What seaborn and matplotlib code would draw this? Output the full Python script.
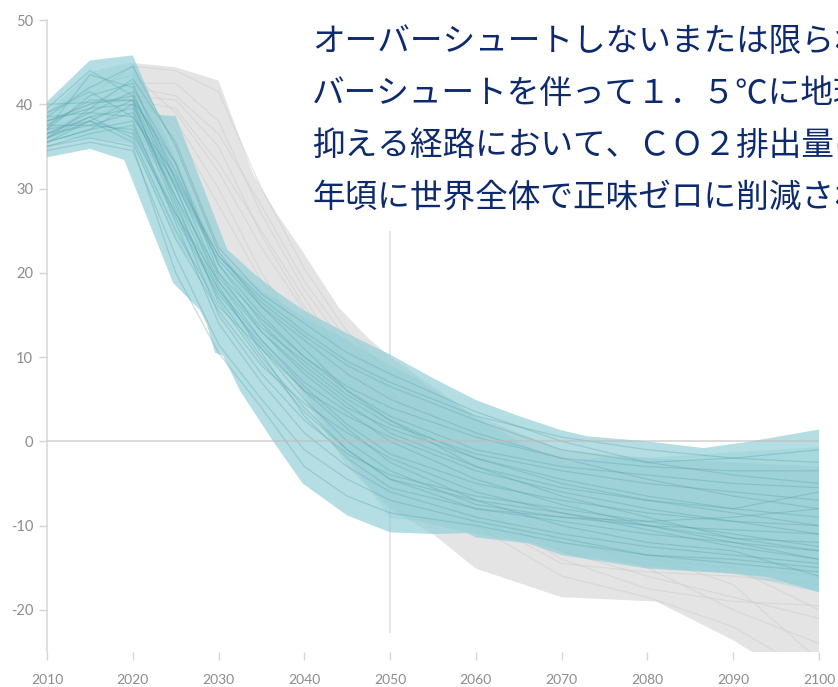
import matplotlib
matplotlib.use('Agg')
import matplotlib.pyplot as plt
import seaborn as sns
import pandas as pd

# title lines (cut off at the right edge like the original)
title_lines = [
    'オーバーシュートしないまたは限られたオー',
    'バーシュートを伴って１．５℃に地球温暖化を',
    '抑える経路において、ＣＯ２排出量は２０５０',
    '年頃に世界全体で正味ゼロに削減される',
]

# outer teal envelope
teal_up_years = [2010, 2015, 2020, 2023, 2025, 2027.5, 2031, 2034, 2037, 2040, 2045, 2050,
                 2055, 2060, 2065, 2070, 2073, 2080, 2086.5, 2091.5, 2100]
teal_up = [40.3, 45.2, 45.8, 38.7, 38.6, 32.0, 22.8, 20.0, 17.6, 15.5, 12.8, 10.3,
           7.5, 4.9, 3.0, 1.3, 0.6, 0.0, -0.8, -0.1, 1.4]
teal_lo_years = [2010, 2015, 2019, 2024.7, 2027.8, 2028.6, 2029.6, 2030.5, 2032.5, 2036.3,
                 2039.8, 2045, 2050, 2055, 2059, 2060, 2066, 2070, 2080, 2090, 2094, 2100]
teal_lo = [33.7, 34.7, 33.4, 18.8, 15.6, 14.0, 10.5, 10.2, 6.0, 0.1,
           -5.0, -8.8, -10.8, -11.0, -10.9, -11.4, -12.1, -13.5, -15.1, -15.7, -16.1, -17.9]

# inner teal envelope (shows darker where it overlaps)
inner_years = [2010, 2015, 2020, 2025, 2030, 2035, 2039.5, 2045, 2050, 2053, 2060, 2067,
               2071, 2074.5, 2081, 2090, 2100]
inner_up = [39.0, 43.8, 45.0, 33.5, 22.0, 18.0, 15.0, 12.0, 9.0, 7.5, 2.8, -1.1,
            -2.5, -1.9, -1.9, -1.3, -0.7]
inner_lo = [35.8, 36.0, 35.3, 24.0, 16.5, 11.0, 6.4, -2.0, -9.1, -9.4, -11.0, -12.1,
            -13.5, -14.0, -15.0, -15.7, -17.9]

# grey envelope
grey_up_years = [2020, 2025, 2030, 2034, 2036.8, 2039.5, 2044, 2047.3, 2050, 2060, 2070, 2080, 2090, 2100]
grey_up = [44.9, 44.4, 42.8, 31.8, 27.0, 23.0, 15.9, 12.4, 10.0, 3.0, -1.0, -2.0, -2.5, -3.0]
grey_lo_years = [2020, 2025, 2030, 2035, 2040, 2045, 2050, 2055, 2060, 2070, 2081, 2090, 2100]
grey_lo = [36.0, 30.0, 22.0, 14.0, 5.0, -3.0, -8.0, -11.0, -15.1, -18.5, -19.0, -23.6, -30.0]

# individual pathways
years = [2010, 2015, 2020, 2025, 2030, 2035, 2040, 2045, 2050, 2060, 2070, 2080, 2090, 2100]
teal_paths = {
    't01': [39.5, 44.0, 41.0, 31.0, 22.0, 17.0, 13.0, 9.5, 7.0, 3.0, 0.5, -1.0, -2.0, -2.5],
    't02': [38.5, 42.0, 44.5, 35.0, 22.5, 16.0, 11.0, 6.0, 3.0, -1.0, -3.0, -4.0, -5.0, -5.5],
    't03': [36.0, 38.0, 40.5, 30.0, 19.0, 12.0, 6.5, 2.0, -1.5, -5.0, -7.0, -8.5, -9.5, -10.0],
    't04': [37.5, 40.5, 40.5, 28.0, 17.0, 10.0, 4.0, -1.0, -4.5, -8.0, -9.5, -11.0, -12.0, -13.0],
    't05': [35.5, 37.0, 38.0, 26.0, 14.0, 7.0, 1.0, -3.0, -6.0, -9.0, -11.0, -12.5, -13.5, -14.5],
    't06': [40.0, 40.2, 40.5, 33.0, 21.0, 15.0, 10.0, 6.5, 4.0, 0.5, -2.0, -3.0, -3.5, -3.5],
    't07': [36.5, 38.5, 36.0, 25.0, 16.0, 11.0, 6.0, 3.0, 0.5, -3.5, -6.0, -8.0, -9.5, -11.0],
    't08': [37.0, 43.5, 42.0, 33.0, 20.0, 13.0, 8.0, 4.0, 1.5, -2.0, -4.5, -6.5, -8.0, -9.0],
    't09': [35.0, 36.5, 37.5, 27.0, 18.0, 12.0, 7.0, 3.5, 0.0, -4.5, -7.5, -10.0, -12.0, -14.0],
    't10': [38.0, 39.5, 43.0, 35.5, 23.0, 17.5, 14.0, 10.5, 8.0, 3.5, 0.0, -2.5, -4.0, -5.0],
    't11': [34.5, 35.5, 34.5, 22.0, 11.5, 5.0, -1.0, -4.5, -7.0, -9.5, -11.5, -13.5, -14.5, -15.5],
    't12': [36.5, 39.0, 41.5, 30.0, 18.5, 10.5, 3.0, -2.0, -5.5, -8.0, -9.0, -10.0, -10.5, -11.0],
    't13': [37.5, 37.5, 39.0, 29.0, 20.0, 14.5, 10.0, 6.0, 2.5, -2.0, -5.0, -7.0, -8.5, -10.0],
    't14': [35.5, 38.0, 35.5, 24.0, 15.5, 9.0, 4.5, 1.0, -2.0, -6.0, -8.5, -10.5, -12.5, -14.0],
    't15': [39.0, 41.5, 38.5, 30.5, 21.5, 16.0, 12.0, 8.0, 5.0, 1.0, -2.0, -4.5, -6.5, -8.0],
    't16': [36.0, 38.5, 39.5, 27.5, 15.0, 8.0, 2.5, -1.5, -4.0, -6.5, -8.0, -9.5, -11.0, -12.5],
    't17': [38.0, 40.0, 41.0, 32.0, 21.0, 14.0, 9.0, 5.0, 2.0, -1.5, -3.5, -5.0, -6.0, -7.0],
    't18': [35.0, 36.0, 35.0, 20.0, 10.5, 4.0, -3.0, -6.5, -8.5, -10.0, -12.0, -13.5, -14.0, -15.0],
    't19': [37.0, 41.0, 42.5, 31.0, 19.5, 13.5, 9.5, 5.5, 2.5, -3.0, -6.5, -9.0, -11.5, -13.0],
    't20': [36.5, 37.5, 37.0, 26.5, 17.5, 11.5, 6.0, 1.5, -2.5, -7.0, -10.0, -12.0, -13.0, -16.0],
    't21': [38.5, 39.0, 38.5, 31.5, 22.0, 16.5, 12.5, 9.0, 6.5, 2.5, -1.0, -2.5, -2.0, -1.0],
    't22': [35.5, 37.0, 40.0, 29.0, 18.0, 11.0, 5.0, 0.0, -3.5, -7.5, -9.0, -9.5, -9.0, -8.0],
    't23': [37.0, 38.0, 36.5, 27.0, 19.0, 13.0, 8.5, 4.5, 1.0, -3.0, -5.5, -7.0, -8.0, -6.0],
    't24': [36.0, 39.5, 40.0, 28.5, 16.5, 9.5, 3.5, -1.0, -4.5, -7.0, -8.5, -10.0, -11.5, -12.0],
}
grey_paths = {
    'g01': [39.0, 41.0, 44.5, 44.0, 41.5, 30.0, 20.5, 13.0, 8.0, -2.0, -7.0, -11.0, -15.0, -20.0],
    'g02': [38.0, 40.0, 42.5, 42.5, 38.0, 27.0, 18.0, 11.0, 5.5, -5.0, -11.0, -15.0, -20.0, -24.0],
    'g03': [37.0, 39.0, 41.0, 40.5, 35.0, 24.5, 16.0, 9.5, 4.0, -7.5, -14.0, -17.5, -19.0, -19.5],
    'g04': [39.0, 42.0, 43.5, 39.0, 32.0, 23.0, 15.5, 8.0, 2.0, -8.0, -13.0, -16.0, -18.5, -21.0],
    'g05': [36.0, 38.0, 40.0, 38.0, 30.0, 20.0, 12.0, 5.0, -1.0, -10.0, -16.0, -18.5, -22.0, -28.0],
    'g06': [37.5, 40.0, 42.0, 41.0, 36.5, 28.0, 19.0, 12.0, 6.0, -4.0, -10.0, -13.5, -17.0, -26.0],
    'g07': [38.0, 39.5, 41.5, 37.0, 28.0, 19.0, 12.5, 7.0, 1.0, -9.0, -14.5, -15.5, -16.0, -17.0],
    'g08': [36.5, 38.5, 40.5, 39.5, 33.0, 25.0, 17.0, 9.0, 3.0, -6.0, -12.0, -14.0, -15.0, -16.0],
}

x_ticks = [2010, 2020, 2030, 2040, 2050, 2060, 2070, 2080, 2090, 2100]
y_ticks = [-20, -10, 0, 10, 20, 30, 40, 50]


def long_form(paths):
    rows = []
    for name, vals in paths.items():
        for yr, v in zip(years, vals):
            rows.append({'scenario': name, 'year': yr, 'value': v})
    return pd.DataFrame(rows)


sns.set_theme(style='white')
plt.rcParams['font.family'] = ['Lato', 'Noto Sans CJK JP', 'DejaVu Sans']
plt.rcParams['axes.unicode_minus'] = False

fig = plt.figure(figsize=(8.38, 6.87), dpi=100)
ax = fig.add_axes([47 / 838, 1 - 652 / 687, (819 - 47) / 838, (652 - 20) / 687])

# faint vertical guide at 2050
ax.vlines(2050, -22.7, 25, color='#e3e3e3', lw=1.2, zorder=0)

# grey band + grey pathways
ax.fill(grey_up_years + grey_lo_years[::-1], grey_up + grey_lo[::-1],
        color='#e4e4e4', lw=0, zorder=1)
sns.lineplot(data=long_form(grey_paths), x='year', y='value', units='scenario',
             estimator=None, color='#cfcfcf', lw=0.8, alpha=0.6, ax=ax, zorder=2)

# teal bands
teal = '#8ccdd5'
ax.fill(teal_up_years + teal_lo_years[::-1], teal_up + teal_lo[::-1],
        color=teal, alpha=0.65, lw=0, zorder=3)
ax.fill(inner_years + inner_years[::-1], inner_up + inner_lo[::-1],
        color=teal, alpha=0.35, lw=0, zorder=3)
sns.lineplot(data=long_form(teal_paths), x='year', y='value', units='scenario',
             estimator=None, color='#5aa3ac', lw=0.9, alpha=0.35, ax=ax, zorder=4)

ax.axhline(0, color='#bdbdbd', lw=1.1, alpha=0.7, zorder=5)

ax.set_xlim(2010, 2100)
ax.set_ylim(-25, 50)
ax.set_xticks(x_ticks)
ax.set_yticks(y_ticks)
ax.set_xlabel('')
ax.set_ylabel('')
for s in ['top', 'right', 'bottom']:
    ax.spines[s].set_visible(False)
ax.spines['left'].set_color('#dcdcdc')
ax.tick_params(axis='y', length=6, width=1, color='#d5d5d5', pad=4,
               labelcolor='#8c8c8c', labelsize=10.5, left=True)
ax.tick_params(axis='x', length=6, width=1, color='#d5d5d5', pad=10,
               labelcolor='#8c8c8c', labelsize=10, bottom=True)

line_y = [42, 94, 146, 198]
for txt, py in zip(title_lines, line_y):
    fig.text(312 / 838, 1 - py / 687, txt, fontsize=23.5, color='#0d2a6e',
             va='center', ha='left', family=['Noto Sans CJK JP', 'DejaVu Sans'])

fig.savefig('out.png', dpi=100)
